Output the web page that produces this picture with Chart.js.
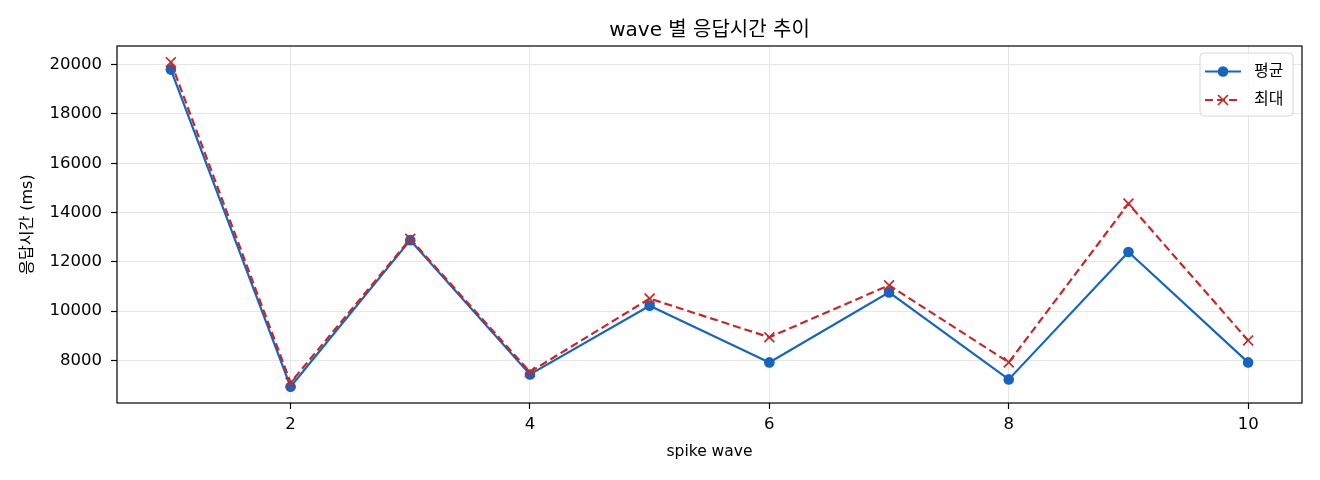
<!DOCTYPE html>
<html>
<head>
<meta charset="utf-8">
<script src="https://cdn.jsdelivr.net/npm/chart.js@4/dist/chart.umd.min.js"></script>
<style>
  html, body { margin: 0; padding: 0; background: #fff; }
  #wrap { width: 1320px; height: 480px; position: relative; }
</style>
</head>
<body>
<div id="wrap"><canvas id="c"></canvas></div>
<script>
const waves = [1, 2, 3, 4, 5, 6, 7, 8, 9, 10];
const avgValues = [19800, 6930, 12880, 7430, 10220, 7920, 10760, 7230, 12400, 7920];
const maxValues = [20100, 7100, 12930, 7530, 10510, 8940, 11050, 7920, 14360, 8810];
const xTicks = [2, 4, 6, 8, 10];
const yTicks = [8000, 10000, 12000, 14000, 16000, 18000, 20000];
const seriesLabels = ['평균', '최대'];
const titleText = 'wave 별 응답시간 추이';
const xLabel = 'spike wave';
const yLabel = '응답시간 (ms)';

const FONT = "'DejaVu Sans', 'Noto Sans CJK KR', sans-serif";
const BLUE = '#1565c0';
const RED = '#c62828';
const DASH = [8, 4];

const framePlugin = {
  id: 'frame',
  afterDatasetsDraw(chart) {
    const {ctx, chartArea: a} = chart;
    ctx.save();
    ctx.strokeStyle = '#000';
    ctx.lineWidth = 1.2;
    ctx.strokeRect(a.left, a.top, a.right - a.left, a.bottom - a.top);
    ctx.restore();
  },
  afterDraw(chart) {
    const {ctx, chartArea: a} = chart;
    ctx.save();
    // title centred over the plot area
    ctx.fillStyle = '#000';
    ctx.font = '20px ' + FONT;
    ctx.textAlign = 'center';
    ctx.textBaseline = 'middle';
    ctx.fillText(titleText, (a.left + a.right) / 2, 30.5);

    const bx = 1200, by = 53, bw = 93, bh = 63, r = 4;
    ctx.beginPath();
    ctx.moveTo(bx + r, by);
    ctx.arcTo(bx + bw, by, bx + bw, by + bh, r);
    ctx.arcTo(bx + bw, by + bh, bx, by + bh, r);
    ctx.arcTo(bx, by + bh, bx, by, r);
    ctx.arcTo(bx, by, bx + bw, by, r);
    ctx.closePath();
    ctx.fillStyle = 'rgba(255,255,255,0.8)';
    ctx.fill();
    ctx.strokeStyle = '#d6d6d6';
    ctx.lineWidth = 1;
    ctx.stroke();

    const rows = [
      {label: seriesLabels[0], color: BLUE, dash: [], marker: 'circle', y: 71.5},
      {label: seriesLabels[1], color: RED, dash: DASH, marker: 'x', y: 100}
    ];
    rows.forEach(row => {
      ctx.beginPath();
      ctx.setLineDash(row.dash);
      ctx.strokeStyle = row.color;
      ctx.lineWidth = 2.2;
      ctx.moveTo(1205, row.y);
      ctx.lineTo(1241, row.y);
      ctx.stroke();
      ctx.setLineDash([]);
      if (row.marker === 'circle') {
        ctx.beginPath();
        ctx.fillStyle = row.color;
        ctx.arc(1223, row.y, 5.3, 0, Math.PI * 2);
        ctx.fill();
      } else {
        ctx.beginPath();
        ctx.lineWidth = 1.7;
        ctx.moveTo(1218, row.y - 5); ctx.lineTo(1228, row.y + 5);
        ctx.moveTo(1218, row.y + 5); ctx.lineTo(1228, row.y - 5);
        ctx.stroke();
      }
      ctx.fillStyle = '#000';
      ctx.font = '16px ' + FONT;
      ctx.textBaseline = 'middle';
      ctx.textAlign = 'left';
      ctx.fillText(row.label, 1254, row.y);
    });
    ctx.restore();
  }
};

new Chart(document.getElementById('c'), {
  type: 'line',
  data: {
    datasets: [
      {
        label: seriesLabels[0],
        data: waves.map((w, i) => ({x: w, y: avgValues[i]})),
        borderColor: BLUE,
        backgroundColor: BLUE,
        borderWidth: 2.2,
        pointStyle: 'circle',
        pointRadius: 5.3,
        pointBorderWidth: 0,
        pointBackgroundColor: BLUE,
        tension: 0,
        order: 2
      },
      {
        label: seriesLabels[1],
        data: waves.map((w, i) => ({x: w, y: maxValues[i]})),
        borderColor: RED,
        backgroundColor: RED,
        borderWidth: 2.2,
        borderDash: DASH,
        pointStyle: 'crossRot',
        pointRadius: 7,
        pointBorderWidth: 1.7,
        pointBorderColor: RED,
        tension: 0,
        order: 1
      }
    ]
  },
  options: {
    responsive: true,
    maintainAspectRatio: false,
    animation: false,
    layout: { padding: { left: 0, right: 18, top: 46, bottom: 0 } },
    plugins: {
      legend: { display: false },
      tooltip: { enabled: false },
      title: { display: false }
    },
    scales: {
      x: {
        type: 'linear',
        min: 0.55,
        max: 10.45,
        afterBuildTicks(scale) { scale.ticks = xTicks.map(v => ({value: v})); },
        afterFit(scale) { scale.height = 77; },
        border: { display: false },
        grid: {
          color: '#e6e6e6',
          lineWidth: 1,
          drawTicks: true,
          tickLength: 6,
          tickColor: '#000',
          tickWidth: 1.2
        },
        ticks: {
          color: '#000',
          padding: 6,
          maxRotation: 0,
          font: { family: FONT, size: 16.5 },
          callback: v => String(v)
        },
        title: {
          display: true,
          text: xLabel,
          color: '#000',
          font: { family: FONT, size: 15.5, lineHeight: 1.2 },
          padding: { top: 0, bottom: 19 }
        }
      },
      y: {
        type: 'linear',
        min: 6272,
        max: 20758,
        afterBuildTicks(scale) { scale.ticks = yTicks.map(v => ({value: v})); },
        afterFit(scale) { scale.width = 117; },
        border: { display: false },
        grid: {
          color: '#e6e6e6',
          lineWidth: 1,
          drawTicks: true,
          tickLength: 6,
          tickColor: '#000',
          tickWidth: 1.2
        },
        ticks: {
          color: '#000',
          padding: 9,
          font: { family: FONT, size: 16.5 },
          callback: v => String(v)
        },
        title: {
          display: true,
          text: yLabel,
          color: '#000',
          font: { family: FONT, size: 16, lineHeight: 1.2 },
          padding: { top: 18, bottom: 0 }
        }
      }
    }
  },
  plugins: [framePlugin]
});
</script>
</body>
</html>
